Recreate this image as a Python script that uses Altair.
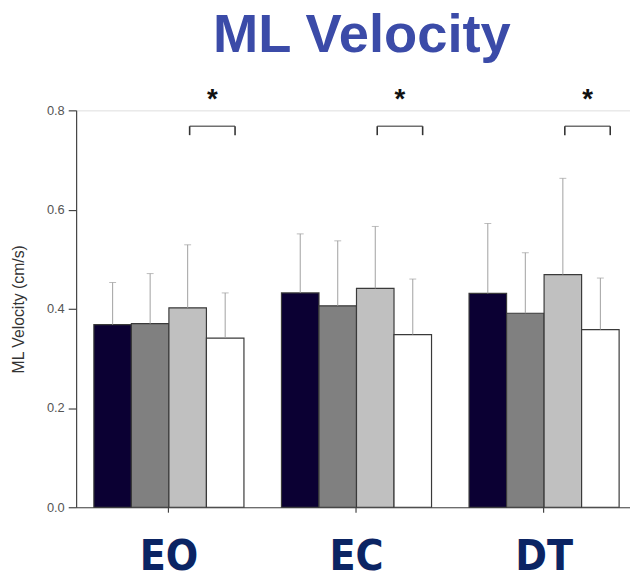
import altair as alt
import pandas as pd

# ---- data ----
groups = ["EO", "EC", "DT"]
conditions = ["C1", "C2", "C3", "C4"]
cond_colors = ["#0B0033", "#808080", "#C0C0C0", "#FFFFFF"]

eo_mean = [0.368, 0.370, 0.402, 0.341]
ec_mean = [0.432, 0.406, 0.441, 0.348]
dt_mean = [0.431, 0.391, 0.469, 0.358]

eo_sd = [0.085, 0.101, 0.127, 0.091]
ec_sd = [0.119, 0.131, 0.125, 0.112]
dt_sd = [0.141, 0.122, 0.194, 0.104]

sig_groups = ["EO", "EC", "DT"]
sig_bracket_top = [0.768, 0.768, 0.768]
sig_bracket_low = [0.750, 0.750, 0.750]
sig_star = [0.805, 0.805, 0.805]
sig_label = ["*", "*", "*"]

y_ticks = [0.0, 0.2, 0.4, 0.6, 0.8]

# ---- tables ----
rows = []
for g, ms, sds in zip(groups, [eo_mean, ec_mean, dt_mean], [eo_sd, ec_sd, dt_sd]):
    for c, m, s in zip(conditions, ms, sds):
        rows.append({"group": g, "cond": c, "mean": m, "upper": m + s})
df = pd.DataFrame(rows)

sig = pd.DataFrame({
    "group": sig_groups,
    "top": sig_bracket_top,
    "low": sig_bracket_low,
    "star": sig_star,
    "label": sig_label,
})

sans = "Liberation Sans, Arial, Helvetica, sans-serif"
narrow = "Liberation Sans Narrow, DejaVu Sans Condensed, Arial Narrow, sans-serif"
axis_color = "#444444"

x_scale = alt.Scale(paddingInner=0.2, paddingOuter=0.0763, align=0.62)
x_axis = alt.Axis(
    title=None, labelAngle=0, labelFont=narrow, labelFontSize=43,
    labelFontWeight="bold", labelColor="#0B2463", labelBaseline="alphabetic",
    labelPadding=58, tickSize=5, tickColor=axis_color, domainColor=axis_color,
    tickWidth=1.2, domainWidth=1.2,
)
y_scale = alt.Scale(domain=[0, 0.8], nice=False)
y_axis = alt.Axis(
    values=y_ticks, format=".1f", grid=False, title="ML Velocity (cm/s)",
    titleFont=sans, titleFontSize=16, titleFontWeight="normal", titleColor="#333333",
    titleAngle=270, titleX=-58, titleY=201, titleBaseline="middle", titleAlign="center",
    labelFont=sans, labelFontSize=13, labelColor="#555555", labelPadding=4,
    tickSize=8, tickColor=axis_color, domainColor=axis_color, tickWidth=1.2, domainWidth=1.2,
)


def X():
    return alt.X("group:N", sort=groups, scale=x_scale, axis=x_axis, title=None)


def Y(field):
    return alt.Y(field, scale=y_scale, axis=y_axis, title="ML Velocity (cm/s)")


x_off = alt.XOffset("cond:N", sort=conditions, scale=alt.Scale(paddingInner=0, paddingOuter=0))

bars = alt.Chart(df).mark_bar(stroke="#3A3A3A", strokeWidth=1.2).encode(
    x=X(), xOffset=x_off, y=Y("mean:Q"),
    color=alt.Color("cond:N", scale=alt.Scale(domain=conditions, range=cond_colors), legend=None),
)

err = alt.Chart(df).mark_rule(color="#A0A0A0", strokeWidth=1).encode(
    x=X(), xOffset=x_off, y=Y("mean:Q"), y2="upper:Q",
)

caps = alt.Chart(df).mark_tick(orient="horizontal", size=7, thickness=1, color="#A0A0A0").encode(
    x=X(), xOffset=x_off, y=Y("upper:Q"),
)

br_h = alt.Chart(sig).mark_tick(orient="horizontal", size=46, thickness=1.6, color="#333333", xOffset=44).encode(
    x=X(), y=Y("top:Q"),
)
br_l = alt.Chart(sig).mark_rule(color="#333333", strokeWidth=1.6, xOffset=21).encode(
    x=X(), y=Y("top:Q"), y2="low:Q",
)
br_r = alt.Chart(sig).mark_rule(color="#333333", strokeWidth=1.6, xOffset=67).encode(
    x=X(), y=Y("top:Q"), y2="low:Q",
)
stars = alt.Chart(sig).mark_text(
    font=sans, fontSize=28, fontWeight="bold", baseline="alphabetic", align="center",
    color="#111111", xOffset=44,
).encode(x=X(), y=Y("star:Q"), text="label:N")

chart = alt.layer(bars, err, caps, br_h, br_l, br_r, stars).properties(
    width=561, height=402,
    autosize=alt.AutoSizeParams(type="none"),
    padding={"left": 69, "top": 100, "right": 0, "bottom": 69},
    title=alt.TitleParams(
        "ML Velocity", font=sans, fontSize=55, fontWeight="bold", color="#3B4BA8",
        anchor="middle", dx=9, offset=-20, baseline="alphabetic",
    ),
).configure_view(stroke=None).configure(background="white")

chart.save("out.html", embed_options={"renderer": "svg", "actions": False})
